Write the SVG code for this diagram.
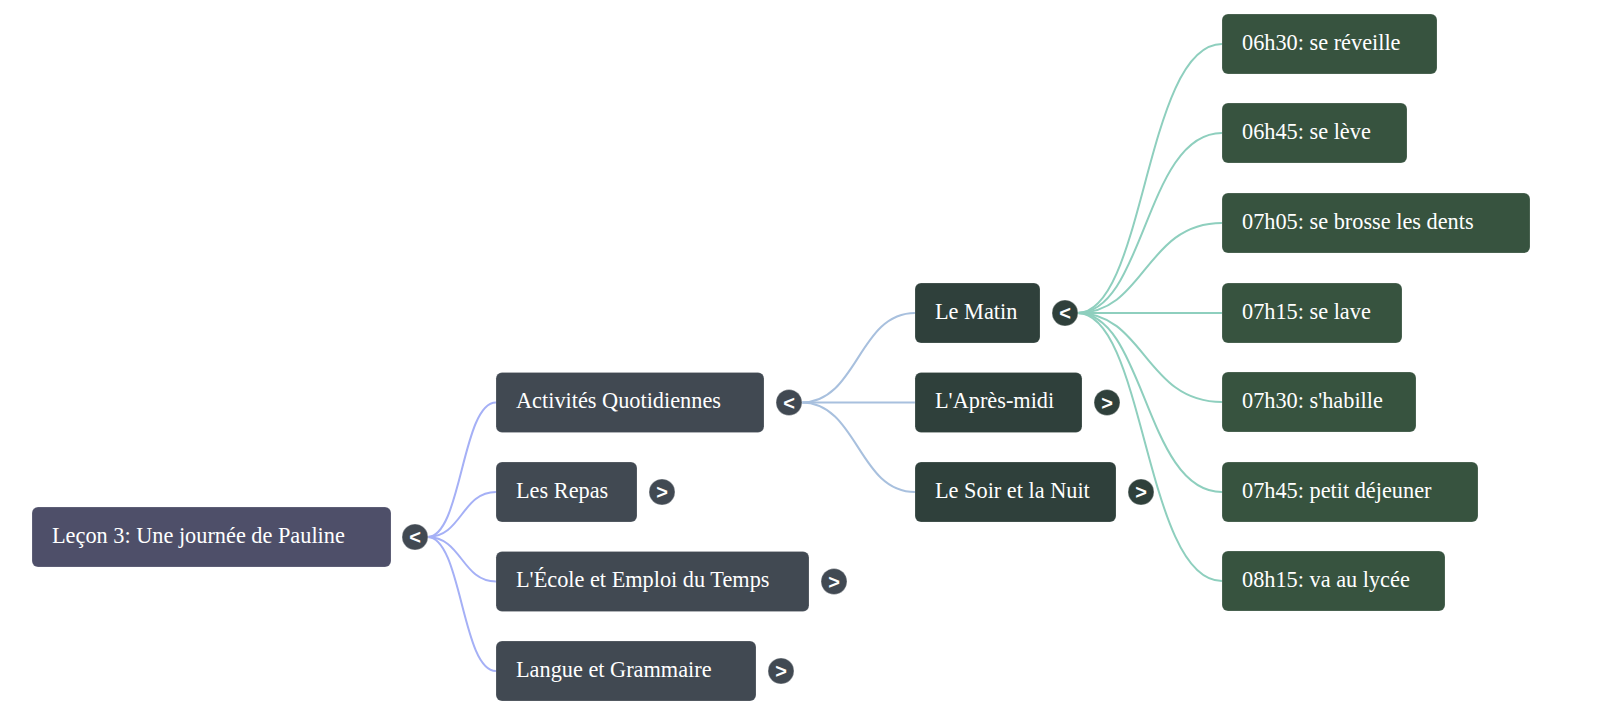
<svg xmlns="http://www.w3.org/2000/svg" width="1600" height="716" viewBox="0 0 1600 716">
<style>
.box{stroke:#ffffff;stroke-opacity:0.18;stroke-width:1}
.root{fill:#4e4f69}
.l1{fill:#414952}
.l2{fill:#2f403b}
.l3{fill:#37533f}
.t{font-family:"Liberation Serif","Times New Roman",serif;font-size:22.3px;fill:#ffffff}
.tg circle{stroke:#ffffff;stroke-opacity:0.35;stroke-width:1}
.tg text{font-family:"Liberation Sans",Arial,sans-serif;font-size:20px;font-weight:bold;fill:#ffffff;text-anchor:middle;dominant-baseline:central}
.c0{fill:none;stroke:#a5b0f6;stroke-width:2}
.c1{fill:none;stroke:#a8c0de;stroke-width:2}
.c2{fill:none;stroke:#8ecfbe;stroke-width:2}
</style>
<rect width="1600" height="716" fill="#ffffff"/>
<g id="connectors">
<path class="c0" d="M427.5 537 C461.75 537 461.75 402.5 496 402.5"/>
<path class="c0" d="M427.5 537 C461.75 537 461.75 492 496 492"/>
<path class="c0" d="M427.5 537 C461.75 537 461.75 581.5 496 581.5"/>
<path class="c0" d="M427.5 537 C461.75 537 461.75 671 496 671"/>
<path class="c1" d="M801.5 402.5 C858 402.5 858 313 915 313"/>
<path class="c1" d="M801.5 402.5 L915 402.5"/>
<path class="c1" d="M801.5 402.5 C858 402.5 858 492 915 492"/>
<path class="c2" d="M1077.5 313 C1145 313 1145 44 1222 44"/>
<path class="c2" d="M1077.5 313 C1145 313 1145 133 1222 133"/>
<path class="c2" d="M1077.5 313 C1145 313 1145 223 1222 223"/>
<path class="c2" d="M1077.5 313 L1222 313"/>
<path class="c2" d="M1077.5 313 C1145 313 1145 402 1222 402"/>
<path class="c2" d="M1077.5 313 C1145 313 1145 492 1222 492"/>
<path class="c2" d="M1077.5 313 C1145 313 1145 581 1222 581"/>
</g>
<g id="root">
<rect class="box root" x="32" y="507" width="359" height="60" rx="6"/>
<text class="t" x="52" y="542.5">Leçon 3: Une journée de Pauline</text>
<g class="tg"><circle cx="415" cy="537" r="13" fill="#414952"/><text x="415" y="537">&lt;</text></g>
</g>
<g id="n-activites">
<rect class="box l1" x="496" y="372.5" width="268" height="60" rx="6"/>
<text class="t" x="516" y="408">Activités Quotidiennes</text>
<g class="tg"><circle cx="789" cy="402.5" r="13" fill="#414952"/><text x="789" y="402.5">&lt;</text></g>
</g>
<g id="n-repas">
<rect class="box l1" x="496" y="462" width="141" height="60" rx="6"/>
<text class="t" x="516" y="497.5">Les Repas</text>
<g class="tg"><circle cx="662" cy="492" r="13" fill="#414952"/><text x="662" y="492">&gt;</text></g>
</g>
<g id="n-ecole">
<rect class="box l1" x="496" y="551.5" width="313" height="60" rx="6"/>
<text class="t" x="516" y="587">L'École et Emploi du Temps</text>
<g class="tg"><circle cx="834" cy="581.5" r="13" fill="#414952"/><text x="834" y="581.5">&gt;</text></g>
</g>
<g id="n-langue">
<rect class="box l1" x="496" y="641" width="260" height="60" rx="6"/>
<text class="t" x="516" y="676.5">Langue et Grammaire</text>
<g class="tg"><circle cx="781" cy="671" r="13" fill="#414952"/><text x="781" y="671">&gt;</text></g>
</g>
<g id="n-matin">
<rect class="box l2" x="915" y="283" width="125" height="60" rx="6"/>
<text class="t" x="935" y="318.5">Le Matin</text>
<g class="tg"><circle cx="1065" cy="313" r="13" fill="#2f403b"/><text x="1065" y="313">&lt;</text></g>
</g>
<g id="n-apresmidi">
<rect class="box l2" x="915" y="372.5" width="167" height="60" rx="6"/>
<text class="t" x="935" y="408">L'Après-midi</text>
<g class="tg"><circle cx="1107" cy="402.5" r="13" fill="#2f403b"/><text x="1107" y="402.5">&gt;</text></g>
</g>
<g id="n-soir">
<rect class="box l2" x="915" y="462" width="201" height="60" rx="6"/>
<text class="t" x="935" y="497.5">Le Soir et la Nuit</text>
<g class="tg"><circle cx="1141" cy="492" r="13" fill="#2f403b"/><text x="1141" y="492">&gt;</text></g>
</g>
<g id="n-0630">
<rect class="box l3" x="1222" y="14" width="215" height="60" rx="6"/>
<text class="t" x="1242" y="49.5">06h30: se réveille</text>
</g>
<g id="n-0645">
<rect class="box l3" x="1222" y="103" width="185" height="60" rx="6"/>
<text class="t" x="1242" y="138.5">06h45: se lève</text>
</g>
<g id="n-0705">
<rect class="box l3" x="1222" y="193" width="308" height="60" rx="6"/>
<text class="t" x="1242" y="228.5">07h05: se brosse les dents</text>
</g>
<g id="n-0715">
<rect class="box l3" x="1222" y="283" width="180" height="60" rx="6"/>
<text class="t" x="1242" y="318.5">07h15: se lave</text>
</g>
<g id="n-0730">
<rect class="box l3" x="1222" y="372" width="194" height="60" rx="6"/>
<text class="t" x="1242" y="407.5">07h30: s'habille</text>
</g>
<g id="n-0745">
<rect class="box l3" x="1222" y="462" width="256" height="60" rx="6"/>
<text class="t" x="1242" y="497.5">07h45: petit déjeuner</text>
</g>
<g id="n-0815">
<rect class="box l3" x="1222" y="551" width="223" height="60" rx="6"/>
<text class="t" x="1242" y="586.5">08h15: va au lycée</text>
</g>
</svg>
